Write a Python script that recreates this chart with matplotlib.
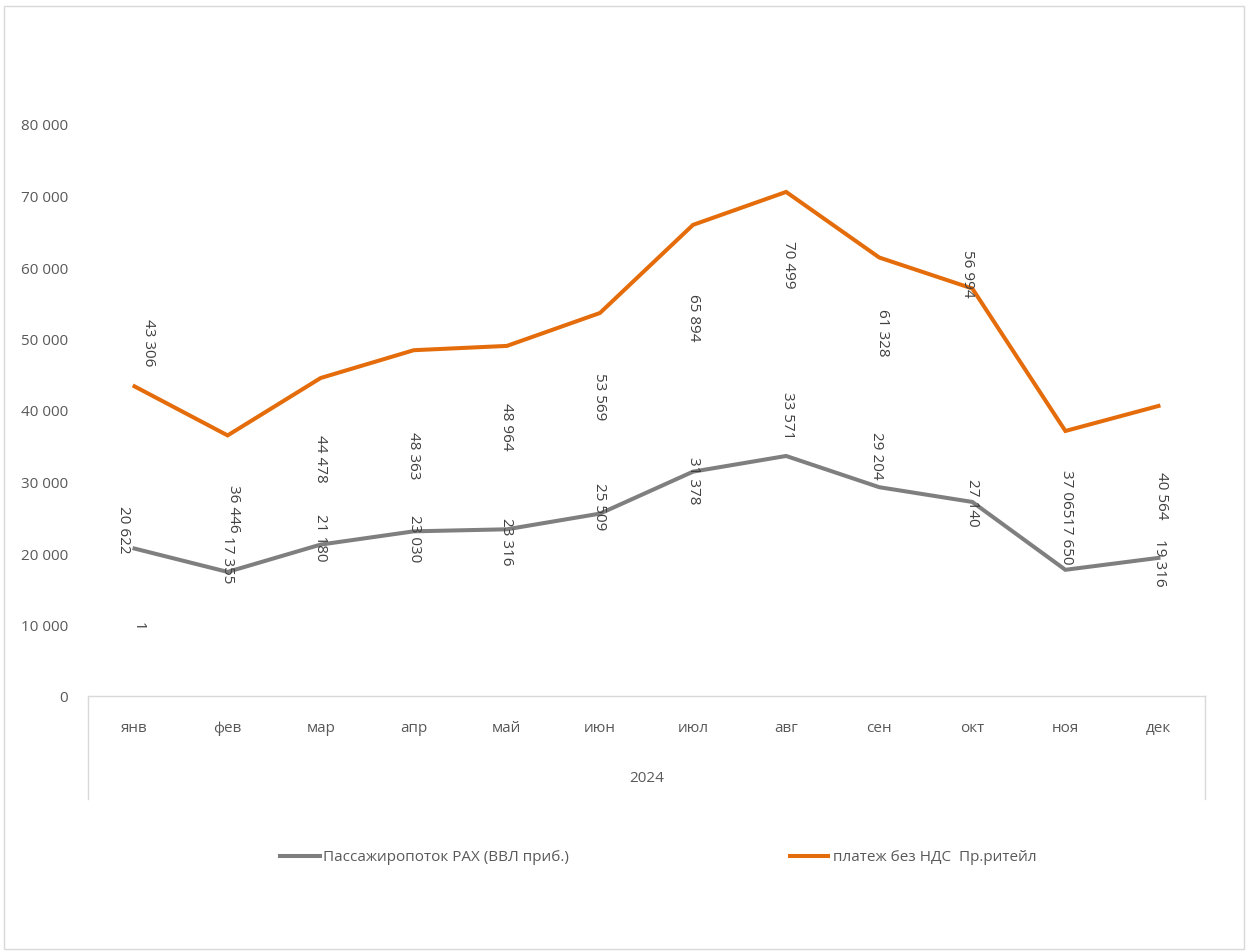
import matplotlib
matplotlib.use("Agg")
import matplotlib.pyplot as plt
from matplotlib.lines import Line2D
from matplotlib.patches import Rectangle

plt.rcParams['font.family'] = ['Open Sans', 'DejaVu Sans']

# ---- data ----
months = ['янв', 'фев', 'мар', 'апр', 'май', 'июн', 'июл', 'авг', 'сен', 'окт', 'ноя', 'дек']
year_label = '2024'
passengers = [20622, 17355, 21180, 23030, 23316, 25509, 31378, 33571, 29204, 27140, 17650, 19316]
payment = [43306, 36446, 44478, 48363, 48964, 53569, 65894, 70499, 61328, 56994, 37065, 40564]
series_names = ['Пассажиропоток РАХ (ВВЛ приб.)', 'платеж без НДС  Пр.ритейл']
yticks = [0, 10000, 20000, 30000, 40000, 50000, 60000, 70000, 80000]

# ---- label layout (pixel offsets of label centre from point) ----
pay_off = [(14, 45), (6, -72), (0, -80), (0, -104), (0, -80), (0, -83),
           (0, -92), (2, -72), (3, -74), (-5, 16), (1, -62), (3, -89)]
pas_off = [(-11, 20), (0, 13), (0, 8), (1, -6), (0, -11), (0, 8),
           (0, -8), (1, 41), (-3, 32), (0, 0), (1, 30), (1, -4)]

GRAY = '#7F7F7F'
ORANGE = '#E46C0A'
TXT = '#595959'
AX = '#D9D9D9'

W, H = 1248, 953
fig = plt.figure(figsize=(W / 100, H / 100), dpi=100)

def fx(px):
    return px / W

def fy(py):
    return 1 - py / H

left, right, bottom, top = 88, 1205, 697, 125
ax = fig.add_axes([fx(left), fy(bottom), fx(right - left), fy(top) - fy(bottom)])
x = list(range(len(months)))
ax.set_xlim(-0.5, len(months) - 0.5)
ax.set_ylim(0, 80000)

ax.plot(x, passengers, color=GRAY, lw=2.9, solid_joinstyle='miter', clip_on=False, zorder=3)
ax.plot(x, payment, color=ORANGE, lw=2.9, solid_joinstyle='miter', clip_on=False, zorder=3)

def fmt(v):
    return f"{v:,}".replace(',', '\u00a0')

pt = 72 / 100
for i in x:
    dx, dy = pay_off[i]
    ax.annotate(fmt(payment[i]), (i, payment[i]), xytext=(dx * pt, dy * pt),
                textcoords='offset points', rotation=-90, ha='center', va='center',
                fontsize=11, color='#404040', zorder=4)
    dx, dy = pas_off[i]
    ax.annotate(fmt(passengers[i]), (i, passengers[i]), xytext=(dx * pt, dy * pt),
                textcoords='offset points', rotation=-90, ha='center', va='center',
                fontsize=11, color='#404040', zorder=4)
# stray label "1"
ax.annotate('1', (0, 0), xytext=(4 * pt, 71 * pt), textcoords='offset points',
            rotation=-90, ha='center', va='center', fontsize=11, color='#404040')

for s in ['left', 'right', 'top']:
    ax.spines[s].set_visible(False)
ax.spines['bottom'].set_color(AX)
ax.spines['bottom'].set_linewidth(1)
ax.set_yticks(yticks)
ax.set_yticklabels([fmt(v) for v in yticks], fontsize=11, color=TXT)
ax.tick_params(axis='y', length=0, pad=14.5)
ax.set_xticks(x)
ax.set_xticklabels(months, fontsize=11, color=TXT)
ax.tick_params(axis='x', length=0, pad=17.5)

# multi-level category axis
fig.add_artist(Line2D([fx(left), fx(left)], [fy(697), fy(800)], color=AX, lw=1))
fig.add_artist(Line2D([fx(right), fx(right)], [fy(697), fy(800)], color=AX, lw=1))
fig.text(fx((left + right) / 2), fy(779), year_label, ha='center', va='center',
         fontsize=11, color=TXT)

# legend
fig.add_artist(Line2D([fx(280), fx(320)], [fy(857), fy(857)], color=GRAY, lw=2.9))
fig.text(fx(323), fy(858), series_names[0], ha='left', va='center', fontsize=11, color=TXT)
fig.add_artist(Line2D([fx(790), fx(828)], [fy(857), fy(857)], color=ORANGE, lw=2.9))
fig.text(fx(833), fy(858), series_names[1], ha='left', va='center', fontsize=11, color=TXT)

# outer border
fig.add_artist(Rectangle((fx(4), fy(950)), fx(1240), fy(7) - fy(950), fill=False,
                         edgecolor=AX, lw=1, transform=fig.transFigure))

fig.savefig('out.png', dpi=100)
